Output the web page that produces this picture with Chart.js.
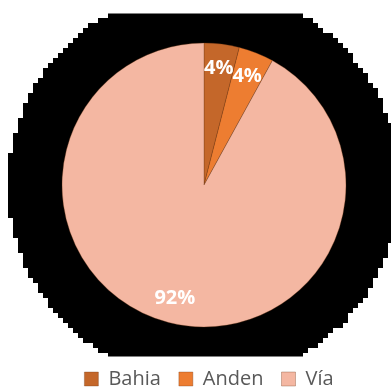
<!DOCTYPE html>
<html>
<head>
<meta charset="utf-8">
<script src="https://cdn.jsdelivr.net/npm/chart.js@4.4.1/dist/chart.umd.min.js"></script>
<style>
  html, body { margin: 0; padding: 0; background: #ffffff; }
  #wrap { width: 391px; height: 387px; }
</style>
</head>
<body>
<div id="wrap"><canvas id="chart" width="391" height="387"></canvas></div>
<script>
// Share of area by type
const categories = ['Bahia', 'Anden', 'Vía'];
const shares = [4, 4, 92];
const sliceColors = ['#C4672A', '#ED7D31', '#F4B7A2'];

// Blocky dark disc behind the pie (drawn before everything else)
const backdrop = {
  id: 'backdrop',
  beforeDraw(chart) {
    const arc = chart.getDatasetMeta(0).data[0];
    if (!arc) return;
    const cx = arc.x, cy = arc.y;
    const rDisc = 196;
    const half = 171.5;
    const cell = 5;
    const ctx = chart.ctx;
    ctx.save();
    ctx.beginPath();
    ctx.rect(0, cy - half, chart.width, half * 2);
    ctx.clip();
    ctx.fillStyle = '#000000';
    for (let y = 3 - cell; y < chart.height; y += cell) {
      for (let x = 3 - cell; x < chart.width + cell; x += cell) {
        const dx = x + cell / 2 - cx, dy = y + cell / 2 - cy;
        if (dx * dx + dy * dy <= rDisc * rDisc) ctx.fillRect(x, y, cell, cell);
      }
    }
    ctx.restore();
  }
};

// Nudge the legend row down toward the bottom edge and slightly right
const legendShift = {
  id: 'legendShift',
  afterLayout(chart) {
    if (chart.legend) {
      chart.legend.top += 12;
      chart.legend.bottom += 12;
      chart.legend.left += 5;
      chart.legend.right += 5;
    }
  }
};

// Percentage labels inside the slices
const sliceLabels = {
  id: 'sliceLabels',
  afterDatasetsDraw(chart) {
    const meta = chart.getDatasetMeta(0);
    const total = shares.reduce((a, b) => a + b, 0);
    const ctx = chart.ctx;
    ctx.save();
    ctx.font = 'bold 20px "Open Sans"';
    ctx.fillStyle = '#ffffff';
    ctx.textAlign = 'center';
    ctx.textBaseline = 'middle';
    meta.data.forEach((arc, i) => {
      const mid = (arc.startAngle + arc.endAngle) / 2;
      const r = arc.outerRadius * 0.825;
      const x = arc.x + Math.cos(mid) * r;
      const y = arc.y + Math.sin(mid) * r;
      ctx.fillText(Math.round(shares[i] / total * 100) + '%', x, y);
    });
    ctx.restore();
  }
};

new Chart(document.getElementById('chart'), {
  type: 'pie',
  data: {
    labels: categories,
    datasets: [{
      data: shares,
      radius: 142,
      backgroundColor: sliceColors,
      borderColor: 'rgba(110,55,20,0.55)',
      borderWidth: 0.6
    }]
  },
  options: {
    responsive: false,
    animation: false,
    layout: { padding: { left: 17, top: 31, right: 0, bottom: 0 } },
    plugins: {
      legend: {
        position: 'bottom',
        labels: {
          boxWidth: 14,
          boxHeight: 14,
          padding: 18,
          color: '#595959',
          font: { family: '"Open Sans"', size: 20 }
        }
      },
      tooltip: { enabled: false }
    }
  },
  plugins: [backdrop, legendShift, sliceLabels]
});
</script>
</body>
</html>
